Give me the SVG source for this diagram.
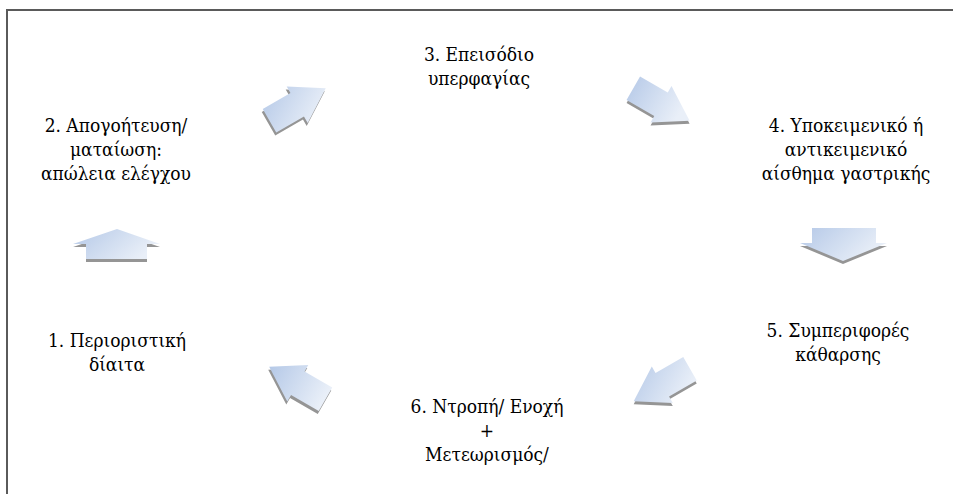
<svg xmlns="http://www.w3.org/2000/svg" xmlns:xlink="http://www.w3.org/1999/xlink" width="953" height="494" viewBox="0 0 953 494">
  <style>
    text { font-family: 'DejaVu Serif Condensed', 'DejaVu Serif', serif; font-stretch: condensed; font-size: 19px; fill: #000; text-anchor: middle; }
    .body { fill: url(#arrowFill); }
    .shade { fill: #959595; filter: url(#soft); }
    .frame { stroke: #5a5a5a; stroke-width: 2; fill: none; }
  </style>
  <defs>
    <linearGradient id="arrowFill" x1="0" y1="0" x2="1" y2="0.4">
      <stop offset="0" stop-color="#b4c8e7"/>
      <stop offset="1" stop-color="#e9eff8"/>
    </linearGradient>
    <filter id="soft" x="-10%" y="-10%" width="120%" height="120%">
      <feGaussianBlur stdDeviation="0.5"/>
    </filter>
    <!-- block arrows of the cycle -->
    <polygon id="a12" points="117,229 160,244 147,244 147,259 86,259 86,244 73,244"/>
    <polygon id="a23" points="262.75,109.01 290.46,93.01 286.71,86.51 325.79,88.2 307.71,122.89 303.96,116.39 276.25,132.39"/>
    <polygon id="a34" points="640.05,76.61 667.76,92.61 671.51,86.11 689.59,120.8 650.51,122.49 654.26,115.99 626.55,99.99"/>
    <polygon id="a45" points="812,228 876,228 876,243 887,243 843,261 800,243 812,243"/>
    <polygon id="a56" points="683.25,357.11 655.54,373.11 651.79,366.61 633.71,401.3 672.79,402.99 669.04,396.49 696.75,380.49"/>
    <polygon id="a61" points="332.25,387.51 304.54,371.51 308.29,365.01 269.21,366.7 287.29,401.39 291.04,394.89 318.75,410.89"/>
  </defs>

  <rect width="953" height="494" fill="#fff"/>
  <!-- page frame -->
  <path class="frame" d="M7,494 V10 H953"/>

  <g id="connectors">
    <g id="arrow-1-2"><use xlink:href="#a12" class="shade" transform="translate(0,3)"/><use xlink:href="#a12" class="body"/></g>
    <g id="arrow-2-3"><use xlink:href="#a23" class="shade" transform="translate(-1,3)"/><use xlink:href="#a23" class="body"/></g>
    <g id="arrow-3-4"><use xlink:href="#a34" class="shade" transform="translate(0,3)"/><use xlink:href="#a34" class="body"/></g>
    <g id="arrow-4-5"><use xlink:href="#a45" class="shade" transform="translate(0,3)"/><use xlink:href="#a45" class="body"/></g>
    <g id="arrow-5-6"><use xlink:href="#a56" class="shade" transform="translate(0,3)"/><use xlink:href="#a56" class="body"/></g>
    <g id="arrow-6-1"><use xlink:href="#a61" class="shade" transform="translate(-1,3)"/><use xlink:href="#a61" class="body"/></g>
  </g>

  <g id="node1">
    <text x="117" y="347">1. Περιοριστική</text>
    <text x="117" y="371">δίαιτα</text>
  </g>
  <g id="node2">
    <text x="116" y="132">2. Απογοήτευση/</text>
    <text x="116" y="156">ματαίωση:</text>
    <text x="116" y="180">απώλεια ελέγχου</text>
  </g>
  <g id="node3">
    <text x="479" y="61">3. Επεισόδιο</text>
    <text x="479" y="85">υπερφαγίας</text>
  </g>
  <g id="node4">
    <text x="846" y="132">4. Υποκειμενικό ή</text>
    <text x="846" y="156">αντικειμενικό</text>
    <text x="846" y="180">αίσθημα γαστρικής</text>
  </g>
  <g id="node5">
    <text x="838" y="337">5. Συμπεριφορές</text>
    <text x="838" y="361">κάθαρσης</text>
  </g>
  <g id="node6">
    <text x="487" y="413">6. Ντροπή/ Ενοχή</text>
    <text x="487" y="437">+</text>
    <text x="487" y="461">Μετεωρισμός/</text>
  </g>
</svg>
